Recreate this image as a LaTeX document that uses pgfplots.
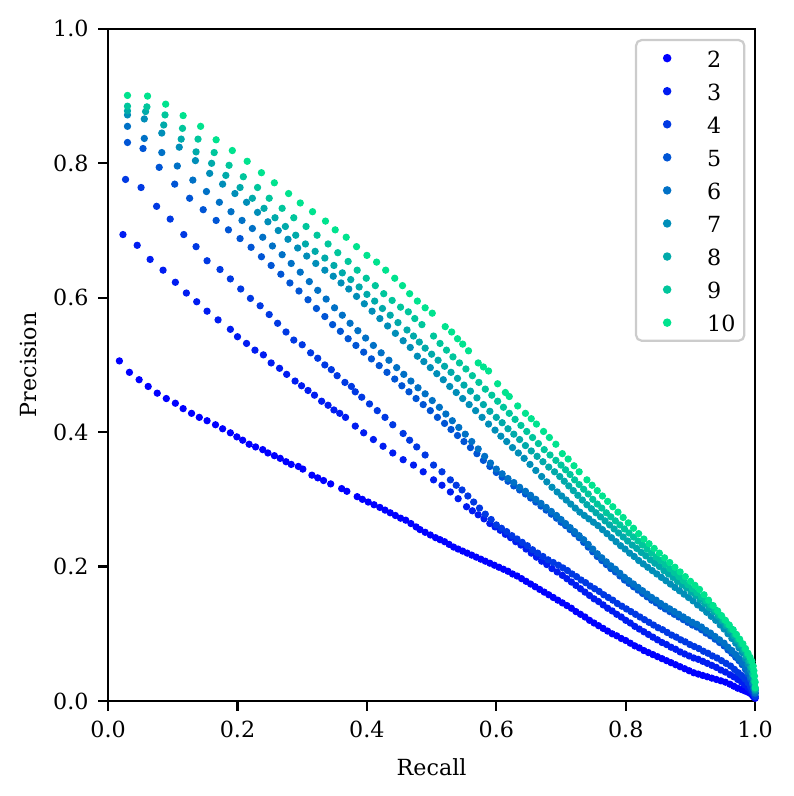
\documentclass[border=0pt]{standalone}
\usepackage{fontspec}
\setmainfont{DejaVu Serif}
\usepackage{pgfplots}
\pgfplotsset{compat=1.18}
\definecolor{c2}{RGB}{0,0,255}
\definecolor{c3}{RGB}{0,28,241}
\definecolor{c4}{RGB}{0,57,227}
\definecolor{c5}{RGB}{0,85,213}
\definecolor{c6}{RGB}{0,113,198}
\definecolor{c7}{RGB}{0,142,184}
\definecolor{c8}{RGB}{0,170,170}
\definecolor{c9}{RGB}{0,198,156}
\definecolor{c10}{RGB}{0,227,142}
\begin{document}
\begin{tikzpicture}[font=\fontsize{8}{9.6}\selectfont]
\path[use as bounding box] (-38.9pt,-34.2pt) rectangle (246.6pt,252.3pt);
\begin{axis}[
  scale only axis, width=232.9pt, height=241.9pt,
  xmin=0, xmax=1, ymin=0, ymax=1,
  xtick={0,0.2,0.4,0.6,0.8,1.0}, ytick={0,0.2,0.4,0.6,0.8,1.0},
  tick pos=left, tick align=outside, major tick length=3.5pt,
  major tick style={line width=0.8pt, black},
  axis line style={line width=0.8pt},
  /pgf/number format/assume math mode=true,
  xticklabel style={/pgf/number format/fixed, /pgf/number format/fixed zerofill, /pgf/number format/precision=1},
  yticklabel style={/pgf/number format/fixed, /pgf/number format/fixed zerofill, /pgf/number format/precision=1},
  xlabel={Recall}, ylabel={Precision},
  xlabel style={at={(axis description cs:0.5,-0.1116)}, anchor=base, inner sep=0pt},
  ylabel style={at={(axis description cs:-0.110,0.5)}, anchor=base, inner sep=0pt},
  legend style={at={(0.985,0.985)}, anchor=north east, draw=black!20, line width=0.8pt,
    rounded corners=2pt, fill=white, inner xsep=3.2pt, inner ysep=3.2pt, row sep=5.3pt,
    nodes={inner sep=0pt, text height=6.6pt, text depth=0pt, anchor=west},
    /tikz/every odd column/.append style={column sep=6.4pt}},
  legend image code/.code={\path[draw=none,fill=none] (0pt,0pt) (16pt,0pt); \draw[sharp corners,mark repeat=2,mark phase=2] plot coordinates {(0pt,0pt) (8pt,0pt) (16pt,0pt)};},
  every axis plot/.append style={only marks, mark=*, mark size=1.1pt},
]
% series 2
\addplot[color=c2] coordinates {(0.0175,.506)(0.033,.489)(0.048,.478)(0.062,.468)(0.076,.458)(0.090,.450)(0.104,.443)(0.116,.435)(0.129,.428)(0.141,.422)(0.153,.417)(0.166,.411)(0.177,.405)(0.189,.399)(0.199,.393)(0.208,.388)(0.218,.382)(0.228,.378)(0.239,.374)(0.247,.369)(0.257,.365)(0.266,.361)(0.275,.356)(0.283,.352)(0.294,.349)(0.301,.345)(0.315,.336)(0.324,.332)(0.333,.328)(0.344,.323)(0.361,.316)(0.369,.312)(0.385,.304)(0.393,.300)(0.402,.296)(0.411,.292)(0.420,.288)(0.428,.284)(0.436,.280)(0.444,.276)(0.452,.272)(0.460,.269)(0.468,.264)(0.476,.259)(0.482,.255)(0.490,.251)(0.498,.247)(0.506,.243)(0.513,.240)(0.520,.237)(0.527,.233)(0.534,.229)(0.541,.226)(0.548,.223)(0.555,.220)(0.562,.217)(0.569,.214)(0.576,.211)(0.583,.208)(0.590,.205)(0.597,.202)(0.604,.199)(0.611,.196)(0.618,.193)(0.625,.189)(0.632,.186)(0.639,.182)(0.646,.178)(0.653,.174)(0.660,.170)(0.667,.166)(0.674,.162)(0.681,.158)(0.688,.154)(0.695,.150)(0.702,.146)(0.709,.142)(0.716,.138)(0.723,.133)(0.730,.129)(0.737,.125)(0.744,.120)(0.751,.116)(0.758,.112)(0.765,.108)(0.772,.104)(0.779,.100)(0.786,.097)(0.793,.093)(0.800,.090)(0.807,.086)(0.814,.082)(0.821,.079)(0.828,.075)(0.835,.072)(0.842,.069)(0.849,.066)(0.856,.063)(0.863,.060)(0.870,.057)(0.877,.054)(0.884,.051)(0.891,.048)(0.898,.045)(0.905,.042)(0.912,.040)(0.919,.038)(0.926,.036)(0.933,.034)(0.940,.032)(0.947,.030)(0.954,.028)(0.961,.025)(0.967,.022)(0.973,.019)(0.979,.017)(0.984,.015)(0.989,.013)(0.993,.011)(0.996,.008)(0.998,.006)(1.0,.004)};
% series 3
\addplot[color=c3] coordinates {(0.023,.694)(0.045,.678)(0.065,.657)(0.085,.641)(0.104,.623)(0.121,.607)(0.137,.594)(0.153,.580)(0.170,.567)(0.189,.553)(0.200,.542)(0.214,.532)(0.227,.522)(0.240,.515)(0.252,.503)(0.265,.495)(0.276,.486)(0.289,.476)(0.299,.469)(0.309,.462)(0.319,.455)(0.330,.446)(0.340,.440)(0.349,.433)(0.358,.428)(0.367,.422)(0.382,.409)(0.395,.399)(0.410,.389)(0.425,.379)(0.440,.369)(0.456,.359)(0.472,.351)(0.487,.341)(0.503,.329)(0.516,.321)(0.529,.311)(0.541,.301)(0.554,.289)(0.563,.283)(0.572,.277)(0.581,.271)(0.590,.264)(0.598,.259)(0.606,.254)(0.614,.248)(0.622,.243)(0.630,.237)(0.638,.232)(0.646,.226)(0.654,.220)(0.662,.214)(0.670,.208)(0.678,.203)(0.686,.197)(0.694,.192)(0.702,.187)(0.709,.182)(0.716,.177)(0.723,.172)(0.730,.167)(0.737,.162)(0.744,.157)(0.751,.152)(0.758,.148)(0.765,.143)(0.772,.138)(0.779,.134)(0.786,.129)(0.793,.125)(0.800,.120)(0.807,.116)(0.814,.111)(0.821,.107)(0.828,.103)(0.835,.099)(0.842,.095)(0.849,.091)(0.856,.087)(0.863,.084)(0.870,.080)(0.877,.077)(0.884,.073)(0.891,.070)(0.898,.067)(0.905,.064)(0.912,.062)(0.919,.059)(0.926,.056)(0.933,.053)(0.940,.050)(0.947,.046)(0.954,.043)(0.961,.039)(0.967,.036)(0.973,.032)(0.979,.028)(0.984,.024)(0.989,.020)(0.993,.016)(0.996,.012)(0.998,.009)(1.0,.006)};
% series 4
\addplot[color=c4] coordinates {(0.027,.776)(0.051,.764)(0.075,.736)(0.096,.717)(0.117,.694)(0.136,.676)(0.153,.655)(0.173,.642)(0.189,.628)(0.205,.613)(0.220,.599)(0.235,.588)(0.249,.575)(0.262,.562)(0.275,.549)(0.287,.537)(0.300,.530)(0.313,.518)(0.324,.510)(0.335,.500)(0.345,.493)(0.354,.484)(0.366,.474)(0.376,.468)(0.382,.460)(0.392,.452)(0.404,.442)(0.416,.432)(0.428,.422)(0.440,.411)(0.456,.398)(0.466,.388)(0.477,.378)(0.490,.366)(0.503,.351)(0.516,.341)(0.529,.329)(0.538,.321)(0.547,.314)(0.556,.305)(0.565,.296)(0.574,.287)(0.583,.278)(0.592,.270)(0.600,.262)(0.608,.257)(0.616,.252)(0.624,.246)(0.632,.241)(0.640,.236)(0.648,.231)(0.656,.225)(0.664,.220)(0.672,.215)(0.680,.210)(0.688,.206)(0.696,.202)(0.703,.198)(0.710,.194)(0.717,.189)(0.724,.185)(0.731,.180)(0.738,.176)(0.745,.171)(0.752,.167)(0.759,.163)(0.766,.158)(0.773,.154)(0.780,.150)(0.787,.145)(0.794,.141)(0.801,.137)(0.808,.133)(0.815,.129)(0.822,.125)(0.829,.121)(0.836,.117)(0.843,.113)(0.850,.109)(0.857,.106)(0.864,.102)(0.871,.098)(0.878,.095)(0.885,.091)(0.892,.088)(0.899,.084)(0.906,.081)(0.913,.078)(0.920,.074)(0.927,.071)(0.934,.067)(0.941,.064)(0.948,.060)(0.955,.056)(0.962,.052)(0.968,.047)(0.974,.042)(0.979,.038)(0.984,.033)(0.989,.027)(0.993,.021)(0.996,.016)(0.998,.011)(1.0,.007)};
% series 5
\addplot[color=c5] coordinates {(0.030,.831)(0.054,.822)(0.079,.794)(0.103,.769)(0.126,.748)(0.147,.731)(0.167,.715)(0.186,.701)(0.204,.688)(0.221,.675)(0.237,.661)(0.252,.648)(0.267,.635)(0.281,.622)(0.295,.610)(0.309,.597)(0.322,.584)(0.335,.572)(0.347,.560)(0.359,.550)(0.371,.539)(0.383,.529)(0.395,.519)(0.407,.509)(0.419,.499)(0.431,.489)(0.443,.479)(0.454,.469)(0.465,.460)(0.476,.450)(0.487,.441)(0.498,.432)(0.509,.422)(0.520,.413)(0.530,.404)(0.540,.395)(0.550,.386)(0.560,.377)(0.570,.368)(0.580,.358)(0.590,.349)(0.600,.340)(0.609,.333)(0.618,.327)(0.627,.320)(0.636,.314)(0.645,.308)(0.653,.302)(0.661,.296)(0.669,.290)(0.677,.284)(0.685,.278)(0.693,.272)(0.700,.266)(0.707,.261)(0.714,.255)(0.721,.249)(0.728,.243)(0.735,.236)(0.742,.229)(0.749,.222)(0.756,.215)(0.763,.209)(0.770,.203)(0.777,.197)(0.784,.192)(0.791,.186)(0.798,.180)(0.805,.175)(0.812,.170)(0.819,.165)(0.826,.160)(0.833,.155)(0.840,.150)(0.847,.146)(0.854,.141)(0.861,.137)(0.868,.133)(0.875,.129)(0.882,.125)(0.889,.121)(0.896,.117)(0.903,.113)(0.910,.110)(0.917,.106)(0.924,.101)(0.931,.097)(0.938,.092)(0.945,.087)(0.952,.082)(0.958,.076)(0.964,.071)(0.970,.065)(0.975,.060)(0.980,.054)(0.985,.047)(0.989,.040)(0.993,.032)(0.996,.024)(0.998,.017)(1.0,.011)};
% series 6
\addplot[color=c6] coordinates {(0.030,.855)(0.056,.837)(0.083,.816)(0.107,.796)(0.131,.775)(0.152,.758)(0.172,.742)(0.190,.728)(0.207,.715)(0.223,.703)(0.239,.690)(0.254,.677)(0.269,.664)(0.283,.651)(0.297,.638)(0.311,.624)(0.324,.611)(0.337,.598)(0.350,.585)(0.362,.574)(0.374,.562)(0.386,.551)(0.398,.540)(0.410,.529)(0.422,.518)(0.434,.507)(0.446,.496)(0.457,.486)(0.468,.476)(0.479,.466)(0.490,.457)(0.501,.447)(0.512,.437)(0.522,.427)(0.532,.417)(0.542,.407)(0.552,.397)(0.562,.386)(0.572,.375)(0.582,.364)(0.591,.354)(0.600,.345)(0.609,.338)(0.618,.331)(0.627,.325)(0.636,.318)(0.645,.312)(0.653,.306)(0.661,.300)(0.669,.294)(0.677,.288)(0.685,.282)(0.693,.276)(0.700,.270)(0.707,.264)(0.714,.258)(0.721,.252)(0.728,.246)(0.735,.240)(0.742,.233)(0.749,.226)(0.756,.219)(0.763,.213)(0.770,.207)(0.777,.201)(0.784,.196)(0.791,.190)(0.798,.184)(0.805,.179)(0.812,.174)(0.819,.169)(0.826,.164)(0.833,.159)(0.840,.154)(0.847,.150)(0.854,.145)(0.861,.141)(0.868,.137)(0.875,.133)(0.882,.129)(0.889,.125)(0.896,.121)(0.903,.117)(0.910,.114)(0.917,.110)(0.924,.105)(0.931,.101)(0.938,.096)(0.945,.091)(0.952,.086)(0.958,.080)(0.964,.075)(0.970,.069)(0.975,.063)(0.980,.057)(0.985,.050)(0.989,.043)(0.993,.035)(0.996,.026)(0.998,.019)(1.0,.012)};
% series 7
\addplot[color=c7] coordinates {(0.030,.872)(0.056,.866)(0.083,.845)(0.110,.824)(0.135,.804)(0.157,.785)(0.177,.769)(0.196,.755)(0.214,.742)(0.231,.727)(0.247,.713)(0.263,.700)(0.278,.687)(0.293,.674)(0.307,.662)(0.321,.651)(0.335,.641)(0.348,.632)(0.360,.622)(0.372,.613)(0.384,.602)(0.396,.591)(0.408,.580)(0.420,.569)(0.432,.558)(0.444,.547)(0.456,.536)(0.467,.526)(0.478,.513)(0.488,.505)(0.498,.496)(0.508,.487)(0.518,.478)(0.528,.468)(0.538,.459)(0.548,.450)(0.558,.441)(0.568,.432)(0.578,.422)(0.588,.412)(0.598,.403)(0.607,.394)(0.616,.386)(0.625,.377)(0.634,.369)(0.643,.361)(0.652,.352)(0.661,.343)(0.670,.334)(0.678,.326)(0.686,.318)(0.694,.311)(0.701,.305)(0.708,.299)(0.715,.293)(0.722,.287)(0.729,.281)(0.736,.276)(0.743,.271)(0.750,.266)(0.757,.261)(0.764,.255)(0.771,.249)(0.778,.243)(0.785,.237)(0.792,.231)(0.799,.226)(0.806,.220)(0.813,.215)(0.820,.209)(0.827,.204)(0.834,.199)(0.841,.194)(0.848,.189)(0.855,.184)(0.862,.179)(0.869,.174)(0.876,.169)(0.883,.164)(0.890,.159)(0.897,.154)(0.904,.149)(0.911,.143)(0.918,.138)(0.925,.132)(0.932,.126)(0.939,.120)(0.946,.113)(0.952,.107)(0.958,.100)(0.964,.093)(0.970,.086)(0.975,.079)(0.980,.072)(0.985,.063)(0.989,.055)(0.993,.045)(0.996,.035)(0.998,.025)(1.0,.015)};
% series 8
\addplot[color=c8] coordinates {(0.030,.878)(0.058,.877)(0.086,.857)(0.113,.836)(0.136,.817)(0.160,.800)(0.182,.782)(0.204,.764)(0.223,.748)(0.241,.733)(0.258,.719)(0.274,.706)(0.290,.693)(0.305,.680)(0.320,.669)(0.335,.659)(0.349,.648)(0.362,.637)(0.375,.627)(0.388,.616)(0.400,.605)(0.412,.595)(0.424,.584)(0.436,.574)(0.448,.563)(0.462,.552)(0.472,.543)(0.481,.534)(0.490,.525)(0.500,.516)(0.510,.507)(0.520,.498)(0.530,.489)(0.540,.480)(0.550,.470)(0.560,.461)(0.570,.451)(0.580,.441)(0.590,.431)(0.600,.422)(0.609,.414)(0.618,.405)(0.627,.397)(0.636,.389)(0.645,.380)(0.654,.372)(0.663,.364)(0.672,.356)(0.681,.348)(0.690,.341)(0.698,.334)(0.705,.327)(0.712,.320)(0.719,.313)(0.726,.306)(0.733,.299)(0.740,.292)(0.747,.286)(0.754,.280)(0.761,.274)(0.768,.268)(0.775,.262)(0.782,.256)(0.789,.250)(0.796,.244)(0.803,.238)(0.810,.232)(0.817,.227)(0.824,.221)(0.831,.216)(0.838,.210)(0.845,.205)(0.852,.200)(0.859,.194)(0.866,.189)(0.873,.184)(0.880,.178)(0.887,.173)(0.894,.168)(0.901,.162)(0.908,.157)(0.915,.151)(0.922,.145)(0.929,.139)(0.936,.133)(0.943,.126)(0.949,.119)(0.955,.112)(0.961,.105)(0.967,.097)(0.972,.090)(0.977,.083)(0.982,.075)(0.986,.067)(0.990,.059)(0.993,.050)(0.996,.040)(0.998,.029)(1.0,.017)};
% series 9
\addplot[color=c9] coordinates {(0.030,.885)(0.060,.884)(0.088,.872)(0.115,.852)(0.139,.836)(0.164,.816)(0.187,.797)(0.209,.780)(0.231,.764)(0.249,.748)(0.269,.733)(0.287,.719)(0.306,.706)(0.323,.693)(0.340,.680)(0.355,.667)(0.371,.654)(0.385,.641)(0.399,.629)(0.413,.618)(0.426,.606)(0.439,.596)(0.452,.586)(0.464,.579)(0.474,.569)(0.485,.560)(0.503,.543)(0.513,.532)(0.523,.522)(0.533,.512)(0.543,.503)(0.553,.494)(0.563,.484)(0.573,.474)(0.583,.464)(0.593,.455)(0.602,.446)(0.611,.437)(0.620,.428)(0.629,.419)(0.638,.410)(0.647,.401)(0.656,.392)(0.665,.383)(0.674,.374)(0.683,.366)(0.692,.358)(0.700,.351)(0.707,.344)(0.714,.337)(0.721,.329)(0.728,.322)(0.735,.315)(0.742,.308)(0.749,.300)(0.756,.293)(0.763,.287)(0.770,.280)(0.777,.274)(0.784,.268)(0.791,.262)(0.798,.256)(0.805,.250)(0.812,.244)(0.819,.238)(0.826,.232)(0.833,.226)(0.840,.220)(0.847,.214)(0.854,.209)(0.861,.203)(0.868,.197)(0.875,.191)(0.882,.185)(0.889,.179)(0.896,.173)(0.903,.167)(0.910,.161)(0.917,.155)(0.924,.149)(0.931,.143)(0.938,.136)(0.945,.128)(0.951,.121)(0.957,.114)(0.963,.107)(0.969,.099)(0.974,.092)(0.979,.085)(0.984,.077)(0.988,.069)(0.992,.060)(0.995,.050)(0.997,.040)(0.999,.030)(1.0,.019)};
% series 10
\addplot[color=c10] coordinates {(0.030,.901)(0.061,.900)(0.089,.888)(0.116,.871)(0.143,.855)(0.167,.835)(0.192,.819)(0.215,.803)(0.237,.786)(0.257,.771)(0.279,.755)(0.297,.741)(0.316,.728)(0.336,.714)(0.351,.701)(0.368,.690)(0.384,.676)(0.400,.663)(0.415,.653)(0.429,.641)(0.443,.629)(0.455,.618)(0.466,.606)(0.478,.595)(0.490,.585)(0.501,.577)(0.521,.557)(0.531,.549)(0.540,.539)(0.548,.531)(0.557,.521)(0.572,.503)(0.580,.497)(0.588,.491)(0.602,.472)(0.614,.459)(0.620,.453)(0.633,.439)(0.645,.428)(0.654,.420)(0.662,.412)(0.673,.401)(0.682,.392)(0.692,.382)(0.702,.368)(0.711,.360)(0.720,.350)(0.728,.341)(0.740,.329)(0.748,.321)(0.756,.313)(0.764,.305)(0.772,.297)(0.780,.289)(0.788,.281)(0.796,.273)(0.804,.265)(0.812,.257)(0.820,.249)(0.828,.241)(0.836,.234)(0.844,.227)(0.852,.220)(0.860,.213)(0.868,.206)(0.876,.199)(0.884,.192)(0.892,.185)(0.900,.178)(0.907,.172)(0.914,.166)(0.921,.158)(0.928,.150)(0.935,.142)(0.942,.134)(0.948,.127)(0.954,.120)(0.960,.113)(0.966,.106)(0.971,.099)(0.976,.092)(0.981,.085)(0.985,.078)(0.989,.071)(0.992,.065)(0.995,.059)(0.997,.052)(0.998,.045)(0.999,.037)(1.0,.028)(1.0,.020)};
\legend{2,3,4,5,6,7,8,9,10}
\end{axis}
\end{tikzpicture}
\end{document}
